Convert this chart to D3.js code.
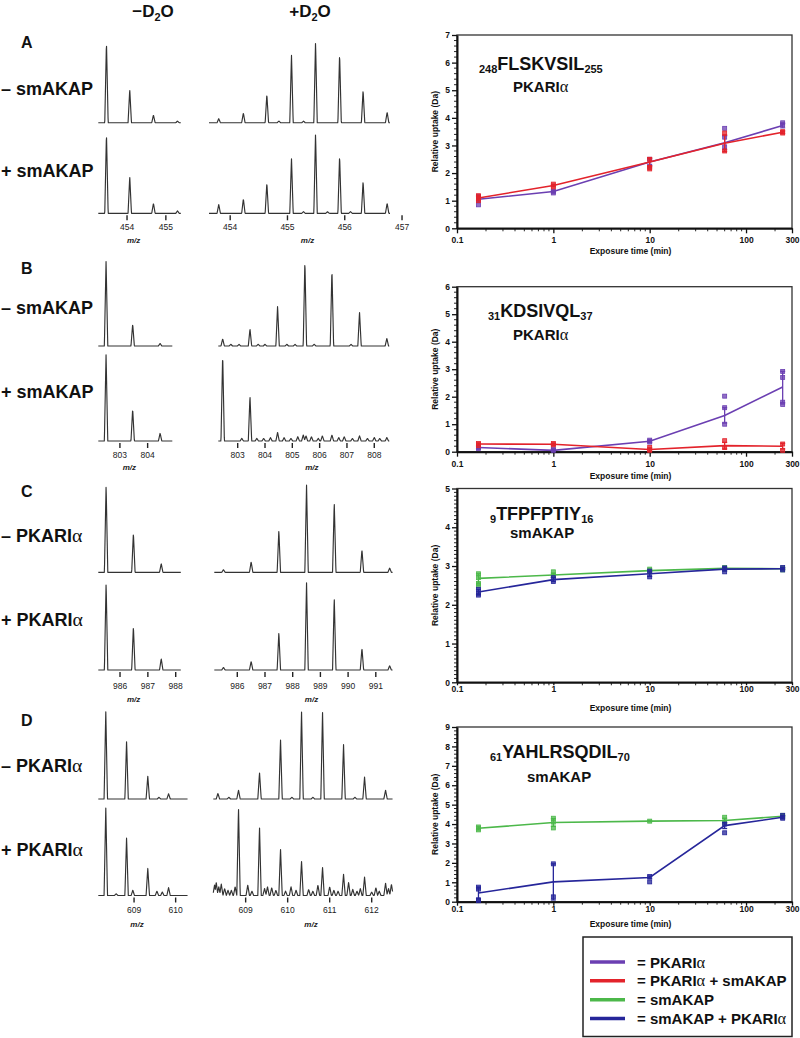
<!DOCTYPE html>
<html><head><meta charset="utf-8">
<script src="https://cdn.jsdelivr.net/npm/d3@7"></script>
<style>body{margin:0;background:#fff}svg{display:block}</style>
</head><body>
<svg id="fig" width="800" height="1038"></svg>
<script>
// ================= DATA =================
const times = [0.167, 1, 10, 60, 240];
const xTickValues = [0.1, 1, 10, 100, 300];
const xTickLabels = ["0.1", "1", "10", "100", "300"];
const seriesNames = ["PKARIα", "PKARIα + smAKAP", "smAKAP", "smAKAP + PKARIα"];
const seriesColors = ["#6b3fb2", "#e3232b", "#4cb84a", "#26269a"];

// Panel A : 248FLSKVSIL255 (PKARIα)
const aPKARI = [1.05, 1.33, 2.4, 3.1, 3.72];
const aPKARIErr = [0.1, 0.05, 0.12, 0.25, 0.08];
const aPKARIRep = [[0.85, 1.05, 1.15], [1.28, 1.35], [2.5, 2.25], [3.62, 3.3, 2.95], [3.82, 3.75]];
const aPKARIsm = [1.1, 1.55, 2.4, 3.08, 3.48];
const aPKARIsmErr = [0.08, 0.05, 0.15, 0.3, 0.05];
const aPKARIsmRep = [[1.0, 1.12, 1.18], [1.6, 1.5], [2.5, 2.2, 2.15], [3.45, 2.8], [3.5, 3.45]];

// Panel B : 31KDSIVQL37 (PKARIα)
const bPKARI = [0.15, 0.05, 0.38, 1.32, 2.35];
const bPKARIErr = [0.03, 0.03, 0.05, 0.28, 0.57];
const bPKARIRep = [[0.15, 0.12], [0.05, 0.1], [0.42, 0.35], [2.02, 1.6, 1.0], [2.92, 2.7, 1.8, 1.72]];
const bPKARIsm = [0.28, 0.27, 0.08, 0.22, 0.2];
const bPKARIsmErr = [0.04, 0.03, 0.06, 0.12, 0.1];
const bPKARIsmRep = [[0.3, 0.22], [0.3, 0.25], [0.15, 0.05], [0.4, 0.15], [0.28, 0.05]];

// Panel C : 9TFPFPTIY16 (smAKAP)
const cSm = [2.68, 2.77, 2.88, 2.94, 2.93];
const cSmErr = [0.12, 0.05, 0.04, 0.02, 0.02];
const cSmRep = [[2.8, 2.7, 2.55, 2.5], [2.85, 2.75], [2.92, 2.85], [2.96, 2.92], [2.95, 2.9]];
const cSmPK = [2.33, 2.65, 2.8, 2.92, 2.93];
const cSmPKErr = [0.07, 0.05, 0.07, 0.05, 0.03];
const cSmPKRep = [[2.4, 2.3, 2.25], [2.7, 2.6], [2.87, 2.72], [2.95, 2.85], [2.96, 2.9]];

// Panel D : 61YAHLRSQDIL70 (smAKAP)
const dSm = [3.78, 4.08, 4.15, 4.18, 4.4];
const dSmErr = [0.08, 0.2, 0.02, 0.12, 0.04];
const dSmRep = [[3.85, 3.7], [4.3, 4.1, 3.8], [4.15], [4.35, 4.05], [4.45, 4.38]];
const dSmPK = [0.45, 1.02, 1.25, 3.92, 4.35];
const dSmPKErr = [0.3, 0.93, 0.07, 0.15, 0.08];
const dSmPKRep = [[0.75, 0.65, 0.1, 0.05], [1.95, 0.25], [1.3, 1.02], [4.0, 3.55], [4.45, 4.3]];

const peptidePre = ["248", "31", "9", "61"];
const peptideSeq = ["FLSKVSIL", "KDSIVQL", "TFPFPTIY", "YAHLRSQDIL"];
const peptidePost = ["255", "37", "16", "70"];
const peptideProtein = ["PKARIα", "PKARIα", "smAKAP", "smAKAP"];
const yMaxes = [7, 6, 5, 9];

// Mass spectra: [m/z, relative intensity]
const specAMinusTop = [[453.47, 1], [454.07, 0.41], [454.68, 0.095], [455.30, 0.02]];
const specAMinusBot = [[453.47, 1], [454.07, 0.46], [454.68, 0.125], [455.30, 0.03]];
const specAPlusTop = [[453.80, 0.05], [454.23, 0.12], [454.64, 0.35], [454.85, 0.02], [455.07, 0.84], [455.28, 0.02], [455.49, 1.0], [455.91, 0.85], [456.32, 0.4], [456.74, 0.13]];
const specAPlusBot = [[453.80, 0.11], [454.23, 0.18], [454.64, 0.38], [455.07, 0.69], [455.28, 0.02], [455.49, 1.0], [455.70, 0.02], [455.91, 0.72], [456.1, 0.02], [456.32, 0.4], [456.74, 0.125]];

const specBMinusTop = [[802.5, 1], [803.46, 0.26], [804.45, 0.03]];
const specBMinusBot = [[802.5, 1], [803.46, 0.37], [804.45, 0.09]];
const specBPlusTop = [[802.45, 0.085], [802.75, 0.02], [803.05, 0.02], [803.45, 0.2], [803.75, 0.02], [804.0, 0.02], [804.46, 0.47], [804.8, 0.02], [805.1, 0.02], [805.46, 1.0], [805.8, 0.02], [806.45, 0.9], [807.15, 0.02], [807.46, 0.4], [808.46, 0.09]];
const specBPlusBot = [[802.45, 1.0], [803.15, 0.03], [803.45, 0.52], [803.7, 0.03], [803.95, 0.03], [804.2, 0.04], [804.46, 0.1], [804.7, 0.04], [804.95, 0.03], [805.2, 0.05], [805.4, 0.07], [805.5, 0.06], [805.7, 0.05], [805.95, 0.03], [806.1, 0.06], [806.45, 0.07], [806.7, 0.04], [806.9, 0.05], [807.2, 0.03], [807.46, 0.06], [807.75, 0.03], [808.0, 0.04], [808.2, 0.03], [808.46, 0.04]];

const specCMinusTop = [[985.5, 1], [986.48, 0.45], [987.48, 0.1]];
const specCMinusBot = [[985.5, 1], [986.48, 0.5], [987.48, 0.13]];
const specCPlusTop = [[985.5, 0.03], [986.5, 0.12], [987.5, 0.48], [988.5, 1.0], [989.5, 0.8], [990.5, 0.26], [991.5, 0.05]];
const specCPlusBot = [[985.5, 0.03], [986.5, 0.1], [987.5, 0.43], [988.5, 1.0], [989.5, 0.83], [990.5, 0.25], [991.5, 0.05]];

const specDMinusTop = [[608.32, 1], [608.82, 0.66], [609.33, 0.26], [609.6, 0.02], [609.83, 0.06]];
const specDMinusBot = [[608.32, 1], [608.57, 0.02], [608.82, 0.66], [608.97, 0.06], [609.33, 0.31], [609.55, 0.05], [609.68, 0.04], [609.83, 0.09]];
const specDPlusTop = [[608.34, 0.065], [608.6, 0.02], [608.83, 0.1], [609.33, 0.3], [609.83, 0.68], [610.1, 0.02], [610.33, 1.0], [610.6, 0.02], [610.83, 0.99], [611.33, 0.62], [611.6, 0.02], [611.83, 0.25], [612.33, 0.1]];
const specDPlusBot = [[608.26, 0.12], [608.3, 0.15], [608.36, 0.1], [608.42, 0.13], [608.5, 0.08], [608.58, 0.06], [608.66, 0.06], [608.75, 0.1], [608.83, 1.0], [609.05, 0.12], [609.15, 0.05], [609.33, 0.78], [609.45, 0.08], [609.52, 0.1], [609.62, 0.09], [609.72, 0.06], [609.83, 0.53], [609.95, 0.05], [610.08, 0.1], [610.2, 0.06], [610.33, 0.39], [610.5, 0.07], [610.6, 0.05], [610.72, 0.12], [610.83, 0.32], [611.0, 0.1], [611.1, 0.06], [611.2, 0.05], [611.33, 0.24], [611.45, 0.15], [611.55, 0.07], [611.65, 0.05], [611.73, 0.08], [611.83, 0.21], [612.0, 0.04], [612.1, 0.09], [612.18, 0.05], [612.33, 0.14], [612.4, 0.08], [612.47, 0.13]];

const specDomainsMinus = [[453.26, 455.39], [802.22, 804.89], [985.22, 988.19], [608.14, 610.29]];
const specDomainsPlus = [[453.63, 456.79], [802.29, 808.55], [985.17, 991.61], [608.23, 612.5]];
const specTicksMinus = [[454, 455], [803, 804], [986, 987, 988], [609, 610]];
const specTicksPlus = [[454, 455, 456, 457], [803, 804, 805, 806, 807, 808], [986, 987, 988, 989, 990, 991], [609, 610, 611, 612]];

const panelLetters = ["A", "B", "C", "D"];
const rowLabels = [["– smAKAP", "+ smAKAP"], ["– smAKAP", "+ smAKAP"], ["– PKARIα", "+ PKARIα"], ["– PKARIα", "+ PKARIα"]];
const columnHeaders = ["−D", "+D"];

// ================= LAYOUT / DRAW =================
const svg = d3.select("#fig");
const SANS = "'Liberation Sans', Arial, sans-serif";
const NARROW = "'Liberation Sans Narrow', 'Liberation Sans', Arial, sans-serif";
const SERIF = "'Liberation Serif', 'DejaVu Serif', serif";

function richText(sel, str, size) {
  const parts = str.split("α");
  parts.forEach((p, i) => {
    if (p) sel.append("tspan").text(p);
    if (i < parts.length - 1) sel.append("tspan").attr("font-family", SERIF).attr("font-weight", "normal").attr("font-size", size * 1.1).text("α");
  });
}

// ---------- column headers ----------
[153, 310].forEach((cx, i) => {
  const t = svg.append("text").attr("x", cx).attr("y", 17).attr("text-anchor", "middle")
    .attr("font-family", SANS).attr("font-weight", "bold").attr("font-size", 17).attr("fill", "#111");
  t.append("tspan").text(columnHeaders[i]);
  t.append("tspan").attr("font-size", 11).attr("dy", 4).text("2");
  t.append("tspan").attr("dy", -4).text("O");
});

// ---------- spectra ----------
const specLayout = [
  {letterY: 48, rows: [[41.7, 122.7], [133.3, 213.3]], minusX: [98.3, 181], plusX: [209, 390], labelY: [95, 177], tickLabY: 230, mzY: 243},
  {letterY: 274, rows: [[261, 346], [354.3, 441]], minusX: [98.3, 172.3], plusX: [218.3, 389.3], labelY: [314, 398], tickLabY: 458, mzY: 470},
  {letterY: 497, rows: [[485, 572.3], [582.7, 670]], minusX: [98.3, 181], plusX: [214.3, 392.7], labelY: [542, 626], tickLabY: 689, mzY: 702},
  {letterY: 726, rows: [[711, 799], [807.3, 895.5]], minusX: [98.3, 187.7], plusX: [213.3, 392.7], labelY: [772, 856], tickLabY: 913, mzY: 927}
];
const spectra = [
  [[specAMinusTop, specAMinusBot], [specAPlusTop, specAPlusBot]],
  [[specBMinusTop, specBMinusBot], [specBPlusTop, specBPlusBot]],
  [[specCMinusTop, specCMinusBot], [specCPlusTop, specCPlusBot]],
  [[specDMinusTop, specDMinusBot], [specDPlusTop, specDPlusBot]]
];

function drawSpectrum(peaks, domain, xr, yr) {
  const x = d3.scaleLinear().domain(domain).range(xr);
  const y = d3.scaleLinear().domain([0, 1]).range([yr[1], yr[0]]);
  const hw = 1.7;
  const pts = [];
  for (let px = xr[0]; px <= xr[1] + 0.01; px += 0.25) {
    let v = 0;
    peaks.forEach(([mz, h]) => {
      const d = Math.abs(px - x(mz));
      if (d < hw) v = Math.max(v, h * (1 - d / hw));
    });
    pts.push([px, y(v)]);
  }
  svg.append("path").attr("d", d3.line()(pts)).attr("fill", "none")
    .attr("stroke", "#333").attr("stroke-width", 1.15).attr("stroke-linejoin", "round");
  return x;
}

specLayout.forEach((L, p) => {
  svg.append("text").attr("x", 21).attr("y", L.letterY).attr("font-family", SANS)
    .attr("font-weight", "bold").attr("font-size", 16).attr("fill", "#111").text(panelLetters[p]);
  rowLabels[p].forEach((lab, r) => {
    const t = svg.append("text").attr("x", 1).attr("y", L.labelY[r]).attr("font-family", SANS)
      .attr("font-weight", "bold").attr("font-size", 18).attr("fill", "#111");
    richText(t, lab, 18);
  });
  [[L.minusX, specDomainsMinus[p], specTicksMinus[p]], [L.plusX, specDomainsPlus[p], specTicksPlus[p]]].forEach(([xr, dom, ticks], c) => {
    let xs;
    [0, 1].forEach(r => { xs = drawSpectrum(spectra[p][c][r], dom, xr, L.rows[r]); });
    const base = L.rows[1][1];
    ticks.forEach(tv => {
      svg.append("line").attr("x1", xs(tv)).attr("x2", xs(tv)).attr("y1", base + 2).attr("y2", base + 7)
        .attr("stroke", "#222").attr("stroke-width", 1.4);
      svg.append("text").attr("x", xs(tv)).attr("y", L.tickLabY).attr("text-anchor", "middle")
        .attr("font-family", NARROW).attr("font-size", 8.5).attr("fill", "#222").text(tv);
    });
    svg.append("text").attr("x", (xr[0] + xr[1]) / 2 + (c === 0 ? -6 : 8)).attr("y", L.mzY).attr("text-anchor", "middle")
      .attr("font-family", SANS).attr("font-style", "italic").attr("font-weight", "bold").attr("font-size", 8).attr("fill", "#222").text("m/z");
  });
});

// ---------- uptake plots ----------
const uptakeSeries = [
  [{c: 0, mean: aPKARI, err: aPKARIErr, rep: aPKARIRep}, {c: 1, mean: aPKARIsm, err: aPKARIsmErr, rep: aPKARIsmRep}],
  [{c: 0, mean: bPKARI, err: bPKARIErr, rep: bPKARIRep}, {c: 1, mean: bPKARIsm, err: bPKARIsmErr, rep: bPKARIsmRep}],
  [{c: 2, mean: cSm, err: cSmErr, rep: cSmRep}, {c: 3, mean: cSmPK, err: cSmPKErr, rep: cSmPKRep}],
  [{c: 2, mean: dSm, err: dSmErr, rep: dSmRep}, {c: 3, mean: dSmPK, err: dSmPKErr, rep: dSmPKRep}]
];
const plotLayout = [
  {top: 35, bottom: 228.3, minor: 0.2, tick: 5, xLabY: 243.5, titleY: 254, pepX: 479, pepY: 70, protX: 513, protY: 92},
  {top: 286.7, bottom: 451.7, minor: 0.2, tick: 5, xLabY: 467, titleY: 478.5, pepX: 488, pepY: 317, protX: 513, protY: 340},
  {top: 488.5, bottom: 682.3, minor: 0.1, tick: 3, xLabY: 692, titleY: 710.5, pepX: 490, pepY: 520, protX: 510, protY: 538},
  {top: 727, bottom: 901.7, minor: 0.2, tick: 4, xLabY: 912, titleY: 926.5, pepX: 490, pepY: 758, protX: 527, protY: 782}
];
const X0 = 457, X1 = 792;
const x = d3.scaleLog().domain([0.1, 300]).range([X0, X1]);
const minorX = [];
[0.1, 1, 10, 100].forEach(dec => { for (let k = 2; k <= 9; k++) if (k * dec < 300) minorX.push(k * dec); });

plotLayout.forEach((L, p) => {
  const y = d3.scaleLinear().domain([0, yMaxes[p]]).range([L.bottom, L.top]);
  const g = svg.append("g");
  g.append("rect").attr("x", X0).attr("y", L.top).attr("width", X1 - X0).attr("height", L.bottom - L.top)
    .attr("fill", "none").attr("stroke", "#333").attr("stroke-width", 1.3);
  const minorY = d3.range(0, yMaxes[p] + 1e-6, L.minor).filter(v => Math.abs(v - Math.round(v)) > 1e-6);
  g.selectAll(".my").data(minorY).join("line").attr("x1", X0 - 3).attr("x2", X0)
    .attr("y1", d => y(d)).attr("y2", d => y(d)).attr("stroke", "#111").attr("stroke-width", 0.9);
  g.selectAll(".mx").data(minorX).join("line").attr("x1", d => x(d)).attr("x2", d => x(d))
    .attr("y1", L.bottom).attr("y2", L.bottom + Math.min(3, L.tick)).attr("stroke", "#111").attr("stroke-width", 0.9);
  const ya = g.append("g").attr("transform", `translate(${X0},0)`)
    .call(d3.axisLeft(y).tickValues(d3.range(0, yMaxes[p] + 1)).tickSize(5).tickSizeOuter(0).tickPadding(2).tickFormat(d3.format("d")));
  ya.select(".domain").attr("stroke", "#111").attr("stroke-width", 2);
  ya.selectAll(".tick line").attr("stroke", "#111").attr("stroke-width", 1.3);
  ya.selectAll(".tick text").attr("font-family", NARROW).attr("font-weight", "bold").attr("font-size", 8.5).attr("fill", "#111");
  const xa = g.append("g").attr("transform", `translate(0,${L.bottom})`)
    .call(d3.axisBottom(x).tickValues(xTickValues).tickSize(L.tick).tickSizeOuter(0).tickFormat((d, i) => xTickLabels[i]));
  xa.select(".domain").attr("stroke", "#111").attr("stroke-width", 2);
  xa.selectAll(".tick line").attr("stroke", "#111").attr("stroke-width", 1.3);
  xa.selectAll(".tick text").attr("y", L.xLabY - L.bottom).attr("dy", 0).attr("font-family", NARROW)
    .attr("font-weight", "bold").attr("font-size", 8.5).attr("fill", "#111");
  g.append("text").attr("x", (X0 + X1) / 2 + 6).attr("y", L.titleY).attr("text-anchor", "middle")
    .attr("font-family", NARROW).attr("font-weight", "bold").attr("font-size", 8.5).attr("fill", "#111").text("Exposure time (min)");
  g.append("text").attr("transform", `translate(438,${(L.top + L.bottom) / 2}) rotate(-90)`).attr("text-anchor", "middle")
    .attr("font-family", NARROW).attr("font-weight", "bold").attr("font-size", 8.5).attr("fill", "#111").text("Relative uptake (Da)");
  const t = g.append("text").attr("x", L.pepX).attr("y", L.pepY).attr("font-family", SANS).attr("font-weight", "bold").attr("fill", "#111");
  t.append("tspan").attr("font-size", 11).attr("dy", 3).text(peptidePre[p]);
  t.append("tspan").attr("font-size", 18).attr("dy", -3).text(peptideSeq[p]);
  t.append("tspan").attr("font-size", 11).attr("dy", 3).text(peptidePost[p]);
  const pt = g.append("text").attr("x", L.protX).attr("y", L.protY).attr("font-family", SANS).attr("font-weight", "bold")
    .attr("font-size", 15).attr("fill", "#111");
  richText(pt, peptideProtein[p], 15);
  uptakeSeries[p].forEach(s => {
    const col = seriesColors[s.c];
    const sg = g.append("g");
    times.forEach((tm, i) => {
      const lo = y(s.mean[i] - s.err[i]), hi = y(s.mean[i] + s.err[i]);
      sg.append("line").attr("x1", x(tm)).attr("x2", x(tm)).attr("y1", lo).attr("y2", hi).attr("stroke", col).attr("stroke-width", 1.3);
      [lo, hi].forEach(yy => sg.append("line").attr("x1", x(tm) - 2.5).attr("x2", x(tm) + 2.5).attr("y1", yy).attr("y2", yy)
        .attr("stroke", col).attr("stroke-width", 1.3));
    });
    times.forEach((tm, i) => {
      s.rep[i].forEach(v => {
        sg.append("rect").attr("x", x(tm) - 2).attr("y", y(v) - 2).attr("width", 4).attr("height", 4)
          .attr("fill", col).attr("fill-opacity", 0.75).attr("stroke", col).attr("stroke-width", 0.8);
      });
    });
    sg.append("path").datum(s.mean).attr("fill", "none").attr("stroke", col).attr("stroke-width", 1.6)
      .attr("d", d3.line().x((d, i) => x(times[i])).y(d => y(d)));
  });
});

// ---------- legend ----------
const lg = svg.append("g");
lg.append("rect").attr("x", 583).attr("y", 937).attr("width", 209).attr("height", 99.5)
  .attr("fill", "#fff").attr("stroke", "#222").attr("stroke-width", 1.5);
const legendRowY = d3.scalePoint().domain(d3.range(seriesNames.length)).range([962, 1018.5]);
seriesNames.forEach((n, i) => {
  const yy = legendRowY(i);
  lg.append("line").attr("x1", 590).attr("x2", 625).attr("y1", yy).attr("y2", yy)
    .attr("stroke", seriesColors[i]).attr("stroke-width", 3.5);
  const t = lg.append("text").attr("x", 637).attr("y", yy + 5.5).attr("font-family", SANS).attr("font-weight", "bold")
    .attr("font-size", 15).attr("fill", "#111");
  richText(t, "= " + n, 15);
});
</script>
</body></html>
